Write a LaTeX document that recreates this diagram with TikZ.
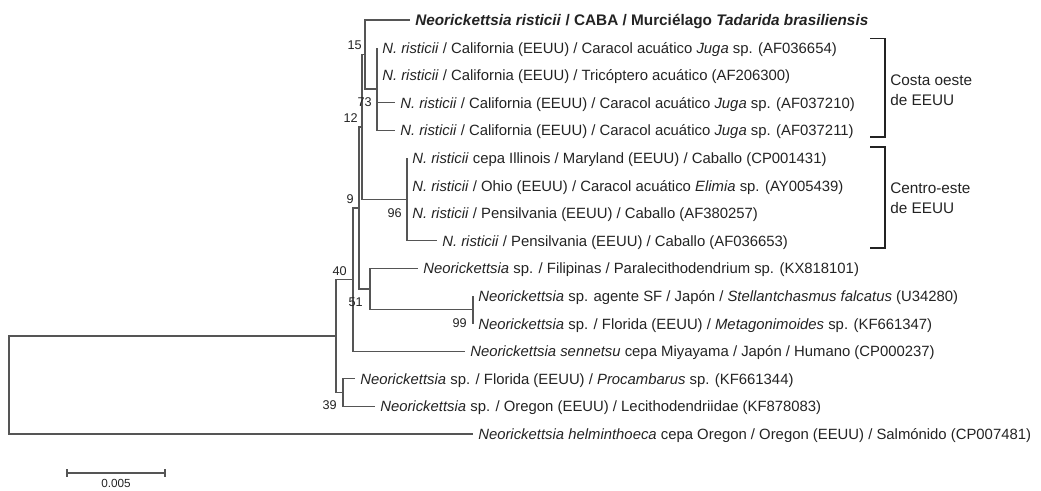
\documentclass[tikz,border=0pt]{standalone}
\usepackage{fontspec}
\setmainfont{Liberation Sans}
\definecolor{ln}{RGB}{85,85,85}
\definecolor{tx}{RGB}{35,35,35}
\begin{document}
\begin{tikzpicture}[x=0.75pt,y=-0.75pt,
  br/.style={draw=ln,line width=0.95pt},
  brk/.style={draw=tx,line width=0.9pt},
  lf/.style={anchor=base west,text=tx,inner sep=0pt,font=\fontsize{11.15}{13}\selectfont},
  lfb/.style={anchor=base west,text=tx,inner sep=0pt,font=\fontsize{11.5}{13}\selectfont\bfseries},
  bs/.style={anchor=base east,text=tx,inner sep=0pt,font=\fontsize{9.5}{11}\selectfont},
  grp/.style={anchor=west,align=left,text=tx,inner sep=0pt,font=\fontsize{11.5}{15}\selectfont}]
\useasboundingbox (0,0) rectangle (1041,490);
% internal nodes
\coordinate (r) at (9,385);
\coordinate (nA) at (336,336.1);
\coordinate (n40) at (353,279.6);
\coordinate (n9) at (359,208);
\coordinate (n12) at (362,127);
\coordinate (n15) at (365,54.5);
\coordinate (n73) at (377,89);
\coordinate (n96) at (407,199.4);
\coordinate (n51) at (370,289.1);
\coordinate (n99) at (473,309.8);
\coordinate (n39) at (343,392.6);
% tips
\coordinate (t1) at (410,20);
\coordinate (t2) at (377,47.6);
\coordinate (t3) at (377,75.2);
\coordinate (t4) at (395,102.8);
\coordinate (t5) at (395,130.4);
\coordinate (t6) at (407,158);
\coordinate (t7) at (407,185.6);
\coordinate (t8) at (407,213.2);
\coordinate (t9) at (437,240.8);
\coordinate (t10) at (418,268.4);
\coordinate (t11) at (473,296);
\coordinate (t12) at (473,323.6);
\coordinate (t13) at (465,351.2);
\coordinate (t14) at (355,378.8);
\coordinate (t15) at (375,406.4);
\coordinate (t16) at (473,434);
% branches
\draw[br] (r) |- (nA); \draw[br] (r) |- (t16);
\draw[br] (nA) |- (n40); \draw[br] (nA) |- (n39);
\draw[br] (n40) |- (n9); \draw[br] (n40) |- (t13);
\draw[br] (n9) |- (n12); \draw[br] (n9) |- (n51);
\draw[br] (n12) |- (n15); \draw[br] (n12) |- (n96);
\draw[br] (n15) |- (t1); \draw[br] (n15) |- (n73);
\draw[br] (n73) |- (t2); \draw[br] (n73) |- (t3); \draw[br] (n73) |- (t4); \draw[br] (n73) |- (t5);
\draw[br] (n96) |- (t6); \draw[br] (n96) |- (t7); \draw[br] (n96) |- (t8); \draw[br] (n96) |- (t9);
\draw[br] (n51) |- (t10); \draw[br] (n51) |- (n99);
\draw[br] (n99) |- (t11); \draw[br] (n99) |- (t12);
\draw[br] (n39) |- (t14); \draw[br] (n39) |- (t15);
% leaf labels
\node[lfb] (L1) at ([shift={(5,5.5)}]t1) {\textit{Neorickettsia risticii} / CABA / Murciélago \textit{Tadarida brasiliensis}};
\node[lf] (L2) at ([shift={(5,5.5)}]t2) {\textit{N. risticii} / California (EEUU) / Caracol acuático \textit{Juga} sp. (AF036654)};
\node[lf] (L3) at ([shift={(5,5.5)}]t3) {\textit{N. risticii} / California (EEUU) / Tricóptero acuático (AF206300)};
\node[lf] (L4) at ([shift={(5,5.5)}]t4) {\textit{N. risticii} / California (EEUU) / Caracol acuático \textit{Juga} sp. (AF037210)};
\node[lf] (L5) at ([shift={(5,5.5)}]t5) {\textit{N. risticii} / California (EEUU) / Caracol acuático \textit{Juga} sp. (AF037211)};
\node[lf] (L6) at ([shift={(5,5.5)}]t6) {\textit{N. risticii} cepa Illinois / Maryland (EEUU) / Caballo (CP001431)};
\node[lf] (L7) at ([shift={(5,5.5)}]t7) {\textit{N. risticii} / Ohio (EEUU) / Caracol acuático \textit{Elimia} sp. (AY005439)};
\node[lf] (L8) at ([shift={(5,5.5)}]t8) {\textit{N. risticii} / Pensilvania (EEUU) / Caballo (AF380257)};
\node[lf] (L9) at ([shift={(5,5.5)}]t9) {\textit{N. risticii} / Pensilvania (EEUU) / Caballo (AF036653)};
\node[lf] (L10) at ([shift={(5,5.5)}]t10) {\textit{Neorickettsia} sp. / Filipinas / Paralecithodendrium sp. (KX818101)};
\node[lf] (L11) at ([shift={(5,5.5)}]t11) {\textit{Neorickettsia} sp. agente SF / Japón / \textit{Stellantchasmus falcatus} (U34280)};
\node[lf] (L12) at ([shift={(5,5.5)}]t12) {\textit{Neorickettsia} sp. / Florida (EEUU) / \textit{Metagonimoides} sp. (KF661347)};
\node[lf] (L13) at ([shift={(5,5.5)}]t13) {\textit{Neorickettsia sennetsu} cepa Miyayama / Japón / Humano (CP000237)};
\node[lf] (L14) at ([shift={(5,5.5)}]t14) {\textit{Neorickettsia} sp. / Florida (EEUU) / \textit{Procambarus} sp. (KF661344)};
\node[lf] (L15) at ([shift={(5,5.5)}]t15) {\textit{Neorickettsia} sp. / Oregon (EEUU) / Lecithodendriidae (KF878083)};
\node[lf] (L16) at ([shift={(5,5.5)}]t16) {\textit{Neorickettsia helminthoeca} cepa Oregon / Oregon (EEUU) / Salmónido (CP007481)};
% bootstrap values
\node[bs] (b15) at (362,49.5) {15};
\node[bs] (b73) at (372,106.5) {73};
\node[bs] (b12) at (358,122.5) {12};
\node[bs] (b9) at (354,203.5) {9};
\node[bs] (b96) at (402,217.5) {96};
\node[bs] (b40) at (347,275.5) {40};
\node[bs] (b51) at (363,306.5) {51};
\node[bs] (b99) at (467,327.5) {99};
\node[bs] (b39) at (337,409.5) {39};
% group brackets
\coordinate (g1a) at (870,38.5); \coordinate (g1b) at (885,38.5);
\coordinate (g1c) at (885,137); \coordinate (g1d) at (870,137);
\draw[brk] (g1a) -- (g1b) -- (g1c) -- (g1d);
\coordinate (g2a) at (870,147); \coordinate (g2b) at (885,147);
\coordinate (g2c) at (885,248); \coordinate (g2d) at (870,248);
\draw[brk] (g2a) -- (g2b) -- (g2c) -- (g2d);
\node[grp] (G1) at (890,90) {Costa oeste\\de EEUU};
\node[grp] (G2) at (890,198) {Centro-este\\de EEUU};
% scale bar
\coordinate (s1) at (67,473); \coordinate (s2) at (165,473);
\draw[br] (s1) -- (s2);
\draw[br] ([yshift=3pt]s1) -- ([yshift=-3pt]s1);
\draw[br] ([yshift=3pt]s2) -- ([yshift=-3pt]s2);
\node[text=tx,inner sep=0pt,font=\fontsize{8.8}{10}\selectfont] (sl) at (116,483.5) {0.005};
\end{tikzpicture}
\end{document}
